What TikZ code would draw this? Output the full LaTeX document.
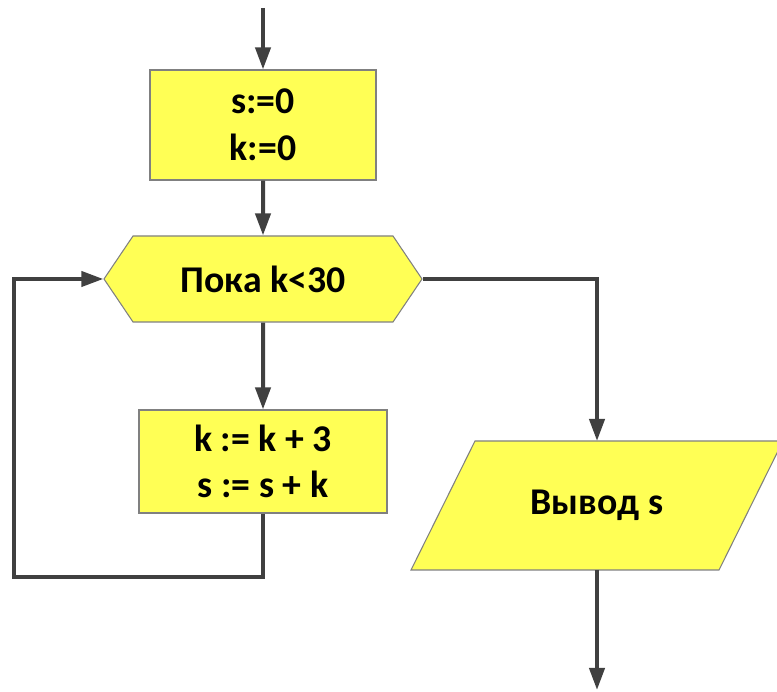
\documentclass[tikz,border=0pt]{standalone}
\usepackage{fontspec}
\setmainfont{Carlito}
\usepackage{tikz}
\usepackage{tkz-euclide}
\usetikzlibrary{positioning}
\usetikzlibrary{arrows.meta}
\usetikzlibrary{shapes.symbols}
\usetikzlibrary{backgrounds}
\definecolor{blockfill}{RGB}{255,255,85}
\definecolor{blockline}{RGB}{128,128,128}
\definecolor{flowline}{RGB}{64,64,64}

\begin{document}
\begin{tikzpicture}[
    block/.style={draw=blockline,fill=blockfill,line width=0.6pt,align=center,
      font=\fontsize{21.5}{26.5}\selectfont\bfseries},
    process/.style={block,rectangle},
    loophead/.style={block,signal,signal to=west and east,signal pointer angle=112},
    io/.style={block,rectangle,draw=none,fill=none},
    flow/.style={draw=flowline,line width=0.08cm,-{Triangle[length=0.44cm,width=0.3cm]}}
  ]

  \useasboundingbox (0,0) rectangle (15.54,13.84);

  \tkzDefPoint(5.26,13.68){start}
  \tkzDefPoint(0.28,2.3){back}
  \tkzDefPoint(11.94,0.04){stop}

  \node[process,minimum width=4.52cm,minimum height=2.2cm] (init) at (5.26,11.34) {s:=0\\k:=0};
  \node[loophead,minimum width=6.36cm,minimum height=1.72cm] (loop) at (5.26,8.26) {Пока k<30};
  \node[process,minimum width=4.96cm,minimum height=2.06cm] (body) at (5.26,4.61) {k := k + 3\\s := s + k};
  \node[io,minimum width=4.88cm,minimum height=2.58cm,inner sep=0pt,outer sep=0pt] (output) at (11.94,3.73) {Вывод s};

  \begin{scope}[on background layer]
    \draw[block] (output.north west) -- ([xshift=1.28cm]output.north east)
      -- (output.south east) -- ([xshift=-1.28cm]output.south west) -- cycle;
  \end{scope}

  \draw[flow] (start) -- (init);
  \draw[flow] (init) -- (loop);
  \draw[flow] (loop) -- (body);
  \draw[flow] (body.south) |- (back) |- (loop.west);
  \draw[flow] (loop.east) -| (output.north);
  \draw[flow] (output.south) -- (stop);

\end{tikzpicture}
\end{document}
